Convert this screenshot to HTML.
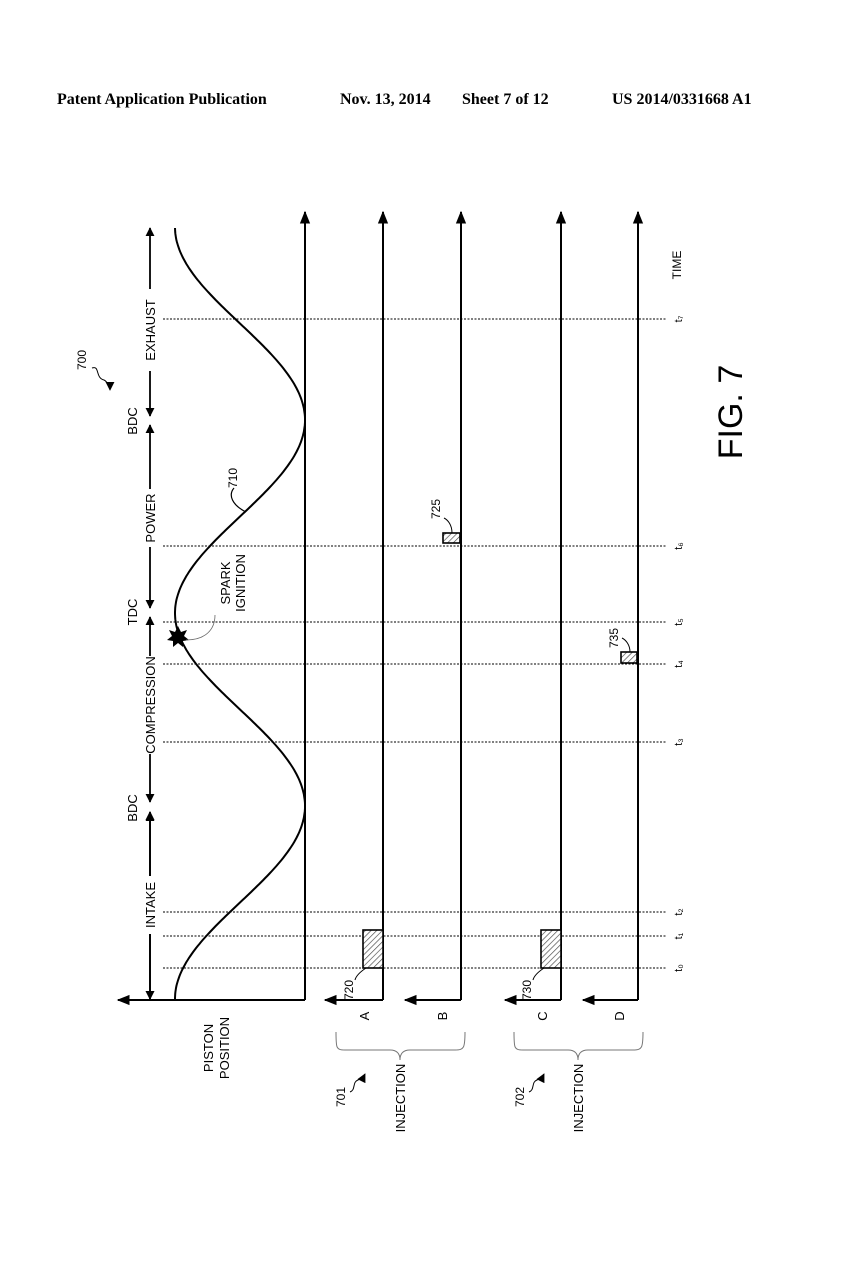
<!DOCTYPE html>
<html><head><meta charset="utf-8"><style>
html,body{margin:0;padding:0;background:#fff;}
svg{display:block;}
text{font-family:"Liberation Sans",sans-serif;fill:#000;}
.hd{font-family:"Liberation Serif",serif;font-weight:bold;font-size:16px;}
</style></head><body>
<svg width="852" height="1280" viewBox="0 0 852 1280" xmlns="http://www.w3.org/2000/svg">
<defs>
<pattern id="h" width="4" height="4" patternUnits="userSpaceOnUse" patternTransform="rotate(45)">
<rect width="4" height="4" fill="#fff"/><line x1="0" y1="0" x2="0" y2="4" stroke="#444" stroke-width="1.3"/></pattern>
<marker id="ar" viewBox="0 0 10 10" refX="9" refY="5" markerWidth="9" markerHeight="9" markerUnits="userSpaceOnUse" orient="auto"><path d="M0,0 L10,5 L0,10 z" fill="#000"/></marker>
<marker id="ab" viewBox="0 0 10 10" refX="9" refY="5" markerWidth="13" markerHeight="13" markerUnits="userSpaceOnUse" orient="auto"><path d="M0,1 L10,5 L0,9 z" fill="#000"/></marker>
</defs>
<text class="hd" x="57" y="104">Patent Application Publication</text>
<text class="hd" x="340" y="104">Nov. 13, 2014</text>
<text class="hd" x="462" y="104">Sheet 7 of 12</text>
<text class="hd" x="612" y="104">US 2014/0331668 A1</text>

<!-- dotted lines -->
<g stroke="#000" stroke-width="1" stroke-dasharray="2,1.5">
<line x1="163" y1="968" x2="666" y2="968"/>
<line x1="163" y1="936" x2="666" y2="936"/>
<line x1="163" y1="912" x2="666" y2="912"/>
<line x1="163" y1="742" x2="666" y2="742"/>
<line x1="163" y1="664" x2="666" y2="664"/>
<line x1="163" y1="622" x2="666" y2="622"/>
<line x1="163" y1="546" x2="666" y2="546"/>
<line x1="163" y1="319" x2="666" y2="319"/>
</g>
<g font-size="11">
<text transform="translate(682,968) rotate(-90)" text-anchor="middle">t₀</text>
<text transform="translate(682,936) rotate(-90)" text-anchor="middle">t₁</text>
<text transform="translate(682,912) rotate(-90)" text-anchor="middle">t₂</text>
<text transform="translate(682,742) rotate(-90)" text-anchor="middle">t₃</text>
<text transform="translate(682,664) rotate(-90)" text-anchor="middle">t₄</text>
<text transform="translate(682,622) rotate(-90)" text-anchor="middle">t₅</text>
<text transform="translate(682,546) rotate(-90)" text-anchor="middle">t₆</text>
<text transform="translate(682,319) rotate(-90)" text-anchor="middle">t₇</text>
<text transform="translate(681,265) rotate(-90)" text-anchor="middle" font-size="12">TIME</text>
</g>

<!-- axes -->
<g stroke="#000" stroke-width="2" fill="none">
<polyline points="305,1000 305,212" marker-end="url(#ab)"/>
<line x1="305" y1="1000" x2="118" y2="1000" marker-end="url(#ab)"/>
<polyline points="383,1000 383,212" marker-end="url(#ab)"/>
<line x1="383" y1="1000" x2="325" y2="1000" marker-end="url(#ab)"/>
<polyline points="461,1000 461,212" marker-end="url(#ab)"/>
<line x1="461" y1="1000" x2="405" y2="1000" marker-end="url(#ab)"/>
<polyline points="561,1000 561,212" marker-end="url(#ab)"/>
<line x1="561" y1="1000" x2="505" y2="1000" marker-end="url(#ab)"/>
<polyline points="638,1000 638,212" marker-end="url(#ab)"/>
<line x1="638" y1="1000" x2="583" y2="1000" marker-end="url(#ab)"/>
</g>

<!-- phase arrows: segments with arrows at both ends -->
<g stroke="#000" stroke-width="1.8" marker-start="url(#ar)" marker-end="url(#ar)">
<line x1="150" y1="813" x2="150" y2="999" marker-start="none"/>
<line x1="150" y1="813" x2="150" y2="812" stroke-width="0"/>
</g>
<g stroke="#000" stroke-width="1.8">
<line x1="150" y1="905" x2="150" y2="999" marker-end="url(#ar)"/>
<line x1="150" y1="905" x2="150" y2="812" marker-end="url(#ar)"/>
<line x1="150" y1="705" x2="150" y2="802" marker-end="url(#ar)"/>
<line x1="150" y1="705" x2="150" y2="617" marker-end="url(#ar)"/>
<line x1="150" y1="518" x2="150" y2="608" marker-end="url(#ar)"/>
<line x1="150" y1="518" x2="150" y2="425" marker-end="url(#ar)"/>
<line x1="150" y1="330" x2="150" y2="416" marker-end="url(#ar)"/>
<line x1="150" y1="330" x2="150" y2="228" marker-end="url(#ar)"/>
</g>
<g fill="#fff">
<rect x="141" y="876" width="18" height="58"/>
<rect x="141" y="656" width="18" height="98"/>
<rect x="141" y="489" width="18" height="58"/>
<rect x="141" y="289" width="18" height="82"/>
</g>
<g font-size="13">
<text transform="translate(155,905) rotate(-90)" text-anchor="middle">INTAKE</text>
<text transform="translate(155,705) rotate(-90)" text-anchor="middle">COMPRESSION</text>
<text transform="translate(155,518) rotate(-90)" text-anchor="middle">POWER</text>
<text transform="translate(155,330) rotate(-90)" text-anchor="middle">EXHAUST</text>
<text transform="translate(137,808) rotate(-90)" text-anchor="middle">BDC</text>
<text transform="translate(137,612) rotate(-90)" text-anchor="middle">TDC</text>
<text transform="translate(137,421) rotate(-90)" text-anchor="middle">BDC</text>
</g>

<!-- piston curve -->
<path id="curve" fill="none" stroke="#000" stroke-width="2" d=""/>
<script>
(function(){var d="";for(var y=1000;y>=228;y-=2){var x=240+65*Math.cos(2*Math.PI*(y-806)/386);d+=(y==1000?"M":"L")+x.toFixed(1)+","+y+" ";}document.getElementById("curve").setAttribute("d",d);})();
</script>

<!-- spark -->
<polygon points="178,626 181,632 187,630 184,636 189,640 183,641 183,647 178,643 173,647 173,641 167,640 172,636 169,630 175,632" fill="#000"/>
<path d="M186,640 C205,640 215,630 215,615" fill="none" stroke="#666" stroke-width="0.8"/>
<text transform="translate(230,583) rotate(-90)" text-anchor="middle" font-size="13">SPARK</text>
<text transform="translate(245,583) rotate(-90)" text-anchor="middle" font-size="13">IGNITION</text>
<path d="M246,512 C232,505 228,495 234,488" fill="none" stroke="#000" stroke-width="1.2"/>
<text transform="translate(237,478) rotate(-90)" text-anchor="middle" font-size="12">710</text>

<!-- 700 -->
<text transform="translate(86,360) rotate(-90)" text-anchor="middle" font-size="12">700</text>
<path d="M92,368 C100,365 95,378 104,380 C108,382 110,388 110,390" fill="none" stroke="#000" stroke-width="1" marker-end="url(#ar)"/>

<!-- injection boxes -->
<g stroke="#000" stroke-width="1.6" fill="url(#h)">
<rect x="363" y="930" width="20" height="38"/>
<rect x="541" y="930" width="20" height="38"/>
<rect x="443" y="533" width="17" height="10"/>
<rect x="621" y="652" width="16" height="11"/>
</g>
<g font-size="12" fill="none" stroke="#000" stroke-width="1">
<path d="M366,968 C360,972 356,976 355,980"/>
<path d="M544,968 C538,972 534,976 533,980"/>
<path d="M452,533 C452,525 448,520 444,518"/>
<path d="M630,652 C630,645 626,640 622,638"/>
</g>
<g font-size="12">
<text transform="translate(353,990) rotate(-90)" text-anchor="middle">720</text>
<text transform="translate(531,990) rotate(-90)" text-anchor="middle">730</text>
<text transform="translate(440,509) rotate(-90)" text-anchor="middle">725</text>
<text transform="translate(618,638) rotate(-90)" text-anchor="middle">735</text>
</g>

<!-- bottom labels -->
<g font-size="13">
<text transform="translate(213,1048) rotate(-90)" text-anchor="middle">PISTON</text>
<text transform="translate(229,1048) rotate(-90)" text-anchor="middle">POSITION</text>
<text transform="translate(369,1016) rotate(-90)" text-anchor="middle">A</text>
<text transform="translate(447,1016) rotate(-90)" text-anchor="middle">B</text>
<text transform="translate(547,1016) rotate(-90)" text-anchor="middle">C</text>
<text transform="translate(624,1016) rotate(-90)" text-anchor="middle">D</text>
<text transform="translate(405,1098) rotate(-90)" text-anchor="middle">INJECTION</text>
<text transform="translate(583,1098) rotate(-90)" text-anchor="middle">INJECTION</text>
<text transform="translate(345,1097) rotate(-90)" text-anchor="middle" font-size="12">701</text>
<text transform="translate(524,1097) rotate(-90)" text-anchor="middle" font-size="12">702</text>
</g>
<g fill="none" stroke="#777" stroke-width="1">
<path d="M336,1032 C336,1048 336,1050 345,1050 L390,1050 C398,1050 400,1055 400,1060 C400,1055 402,1050 410,1050 L455,1050 C464,1050 465,1048 465,1032"/>
<path d="M514,1032 C514,1048 514,1050 523,1050 L568,1050 C576,1050 578,1055 578,1060 C578,1055 580,1050 588,1050 L633,1050 C642,1050 643,1048 643,1032"/>
</g>
<g fill="none" stroke="#000" stroke-width="1">
<path d="M350,1092 C356,1090 352,1082 358,1080 C362,1078 364,1076 365,1074" marker-end="url(#ar)"/>
<path d="M529,1092 C535,1090 531,1082 537,1080 C541,1078 543,1076 544,1074" marker-end="url(#ar)"/>
</g>

<text transform="translate(742,412) rotate(-90)" text-anchor="middle" font-size="34">FIG. 7</text>
</svg>
</body></html>
